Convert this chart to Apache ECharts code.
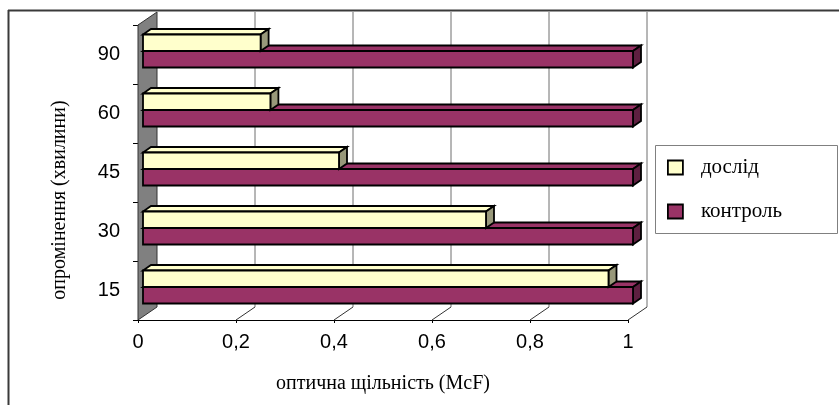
<!DOCTYPE html>
<html>
<head>
<meta charset="utf-8">
<script src="https://cdn.jsdelivr.net/npm/echarts@6/dist/echarts.min.js"></script>
<style>
  html, body { margin: 0; padding: 0; background: #fff; }
  #chart { width: 839px; height: 405px; }
</style>
</head>
<body>
<div id="chart"></div>
<script>
// Irradiation time categories (bottom to top) and optical density values
const categories = ['15', '30', '45', '60', '90'];
const experiment = [0.95, 0.70, 0.40, 0.26, 0.24];   // дослід
const control = [1, 1, 1, 1, 1];                      // контроль
const xTicks = [0, 0.2, 0.4, 0.6, 0.8, 1];

// Pseudo-3D projection offsets (pixels)
const WALL = { dx: 19, dy: -13 };   // depth of the whole plot box
const FACE = { dx: 5, dy: -3.5 };   // where the bar front faces sit in depth
const BAR = { dx: 8, dy: -5.5 };    // depth of each bar

const chart = echarts.init(document.getElementById('chart'), null, { renderer: 'canvas' });

const stroke = { stroke: '#000', lineWidth: 1.8, lineJoin: 'miter' };

function barRenderer(upper, colors) {
  return function (params, api) {
    const v = api.value(0), c = api.value(1);
    const pEnd = api.coord([v, c]);
    const pStart = api.coord([0, c]);
    const band = api.size([0, 1])[1];
    const h = band * 0.28;
    const x0 = pStart[0] + FACE.dx;
    const x1 = pEnd[0] + FACE.dx;
    const yTop = pEnd[1] + FACE.dy - (upper ? h : 0);
    const yBot = yTop + h;
    return {
      type: 'group',
      children: [
        { type: 'polygon', shape: { points: [[x0, yTop], [x1, yTop], [x1 + BAR.dx, yTop + BAR.dy], [x0 + BAR.dx, yTop + BAR.dy]] },
          style: Object.assign({ fill: colors.top }, stroke) },
        { type: 'polygon', shape: { points: [[x1, yTop], [x1 + BAR.dx, yTop + BAR.dy], [x1 + BAR.dx, yBot + BAR.dy], [x1, yBot]] },
          style: Object.assign({ fill: colors.side }, stroke) },
        { type: 'rect', shape: { x: x0, y: yTop, width: x1 - x0, height: h },
          style: Object.assign({ fill: colors.front }, stroke) }
      ]
    };
  };
}

function frameRenderer(params, api) {
  const cs = params.coordSys;
  const v = api.value(0);
  const x = api.coord([v, 0])[0];
  const yb = cs.y + cs.height, yt = cs.y;
  if (v === 0) {
    return {
      type: 'polygon',
      shape: { points: [[x, yb], [x + WALL.dx, yb + WALL.dy], [x + WALL.dx, yt + WALL.dy], [x, yt]] },
      style: { fill: '#808080', stroke: '#333', lineWidth: 1 }
    };
  }
  return {
    type: 'group',
    children: [
      { type: 'line', shape: { x1: x + WALL.dx, y1: yb + WALL.dy, x2: x + WALL.dx, y2: yt + WALL.dy },
        style: { stroke: '#6e6e6e', lineWidth: 1 } },
      { type: 'line', shape: { x1: x, y1: yb, x2: x + WALL.dx, y2: yb + WALL.dy },
        style: { stroke: '#333', lineWidth: 1 } }
    ]
  };
}

const option = {
  animation: false,
  backgroundColor: '#fff',
  grid: { left: 138, top: 25, width: 490, height: 295 },
  xAxis: {
    type: 'value', min: 0, max: 1, interval: 0.2,
    name: 'оптична щільність (McF)', nameLocation: 'middle', nameGap: 54,
    nameTextStyle: { fontFamily: 'Liberation Serif', fontSize: 20, color: '#000' },
    axisLine: { show: true, lineStyle: { color: '#000', width: 1 } },
    axisTick: { show: true, length: 3, lineStyle: { color: '#000' } },
    axisLabel: { fontFamily: 'Liberation Sans', fontSize: 20, color: '#000', margin: 12,
      formatter: v => String(+v.toFixed(1)).replace('.', ',') },
    splitLine: { show: false }
  },
  yAxis: {
    type: 'category', data: categories,
    name: 'опромінення (хвилини)', nameLocation: 'middle', nameGap: 68,
    nameTextStyle: { fontFamily: 'Liberation Serif', fontSize: 20, color: '#000', padding: [0, 55, 0, 0] },
    axisLine: { show: true, lineStyle: { color: '#000', width: 1 } },
    axisTick: { show: true, length: 5, lineStyle: { color: '#000' } },
    axisLabel: { fontFamily: 'Liberation Sans', fontSize: 20, color: '#000', margin: 18 },
    splitLine: { show: false }
  },
  legend: {
    orient: 'vertical', left: 662, top: 152,
    icon: 'rect', itemWidth: 15, itemHeight: 14, itemGap: 23,
    itemStyle: { borderColor: '#000', borderWidth: 1.8 },
    textStyle: { fontFamily: 'Liberation Serif', fontSize: 21, lineHeight: 20, color: '#000', padding: [0, 0, 0, 13] },
    data: ['дослід', 'контроль'],
    selectedMode: false
  },
  graphic: [
    { type: 'line', shape: { x1: 8, y1: 10.5, x2: 839, y2: 10.5 }, style: { stroke: '#3a3a3a', lineWidth: 2 }, silent: true },
    { type: 'line', shape: { x1: 8.5, y1: 10, x2: 8.5, y2: 405 }, style: { stroke: '#3a3a3a', lineWidth: 2 }, silent: true },
    { type: 'rect', shape: { x: 655.5, y: 145.5, width: 182, height: 88 }, style: { fill: 'none', stroke: '#808080', lineWidth: 1 }, silent: true }
  ],
  series: [
    {
      name: 'frame', type: 'custom', z: 1, silent: true,
      renderItem: frameRenderer,
      data: xTicks.map(v => [v, 0]),
      encode: { x: 0, y: 1 }
    },
    {
      name: 'контроль', type: 'custom', z: 3,
      itemStyle: { color: '#993366' },
      renderItem: barRenderer(false, { front: '#993366', top: '#993366', side: '#5e1f40' }),
      data: control.map((v, i) => [v, i]),
      encode: { x: 0, y: 1 }
    },
    {
      name: 'дослід', type: 'custom', z: 4,
      itemStyle: { color: '#FFFFCC' },
      renderItem: barRenderer(true, { front: '#FFFFCC', top: '#FFFFCC', side: '#98987a' }),
      data: experiment.map((v, i) => [v, i]),
      encode: { x: 0, y: 1 }
    }
  ]
};

chart.setOption(option);
</script>
</body>
</html>
